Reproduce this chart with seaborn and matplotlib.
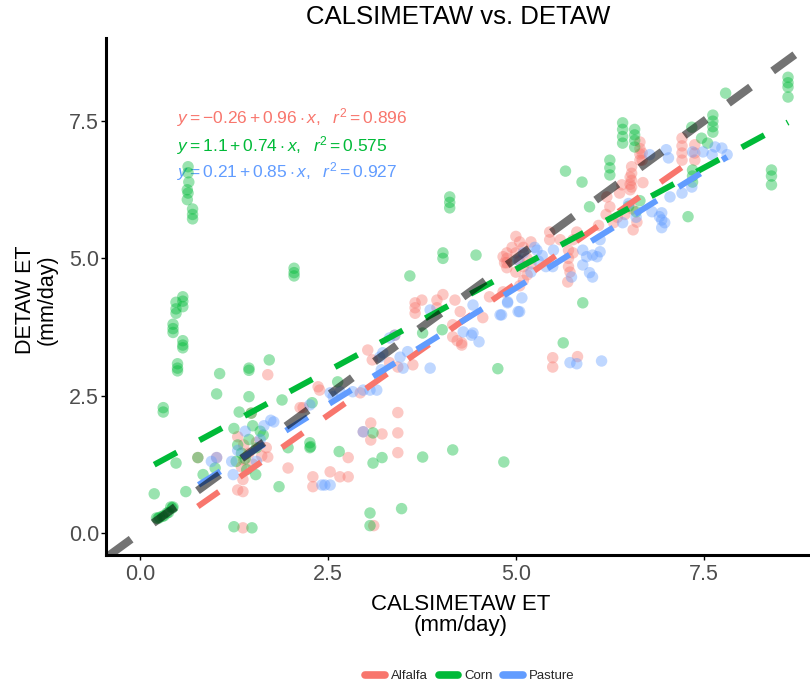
import numpy as np
import pandas as pd
import matplotlib
matplotlib.use("Agg")
import matplotlib.pyplot as plt
import seaborn as sns
from matplotlib.lines import Line2D

# ---------------- data ----------------
crops = ["Alfalfa", "Corn", "Pasture"]
crop_colors = ["#F8766D", "#00BA38", "#619CFF"]

alfalfa_x = [1.70, 2.17, 1.48, 1.30, 1.38, 1.45, 1.50, 1.55, 1.62, 1.68, 1.35, 1.70, 1.38,
             0.77, 1.02, 1.37, 1.37, 1.30, 1.37, 3.11,
             1.97, 2.30, 2.30, 2.53, 2.66, 2.77, 2.77,
             2.13, 2.37, 2.39, 2.93,
             3.43, 3.43, 3.43, 3.07, 2.97, 3.22, 3.07,
             3.09, 3.03, 3.63, 3.32, 3.43, 3.39,
             3.66, 3.66, 3.66, 3.75, 3.95, 3.95, 4.03, 4.19, 4.26, 4.56, 4.65, 4.83,
             4.88, 4.88, 4.88, 4.16, 4.16, 4.22, 4.28, 4.28, 4.83, 4.85, 4.88,
             5.00, 5.05, 5.10, 5.00, 5.15, 5.05, 5.10, 5.00, 5.15, 5.20, 4.95, 5.10, 5.20, 5.05,
             5.45, 5.45, 5.59, 5.81, 5.76, 5.76, 5.70, 5.70, 5.70, 5.72, 5.69,
             5.49, 5.49, 5.82,
             6.68, 6.68, 6.52, 6.52, 6.52, 6.41, 6.25, 6.21, 6.38, 6.56, 6.61,
             6.65, 6.65, 6.65, 6.65, 6.54, 6.54, 6.54, 6.54, 6.69,
             7.21, 7.21, 7.21, 7.21, 7.38, 7.38, 7.38,
             6.55, 6.45, 6.35, 6.10, 6.20, 6.30]
alfalfa_y = [2.88, 2.28, 2.18, 1.75, 1.60, 1.45, 1.25, 1.65, 1.40, 1.55, 1.20, 1.38, 1.33,
             1.37, 1.37, 0.97, 0.75, 0.78, 0.09, 0.13,
             1.18, 1.02, 0.84, 1.11, 1.02, 1.02, 1.37,
             2.28, 2.66, 2.60, 2.55,
             2.19, 1.82, 1.46, 2.00, 1.84, 1.80, 1.69,
             3.15, 3.33, 3.06, 3.10, 3.02, 3.60,
             4.19, 4.10, 4.00, 4.24, 4.24, 4.10, 4.34, 4.24, 4.03, 3.92, 4.30, 4.39,
             5.10, 5.00, 4.92, 3.79, 3.57, 3.50, 3.42, 3.46, 5.03, 4.92, 4.83,
             5.40, 5.30, 5.20, 5.10, 5.00, 4.95, 4.85, 4.75, 4.70, 5.30, 5.20, 4.60, 4.90, 4.50,
             5.48, 5.34, 5.34, 5.48, 5.34, 5.10, 5.15, 5.00, 4.85, 4.75, 4.57,
             3.19, 3.02, 3.21,
             6.92, 6.79, 6.48, 6.35, 6.25, 6.34, 5.94, 6.12, 6.19, 5.52, 5.66,
             7.12, 7.00, 6.90, 6.79, 6.67, 6.55, 6.42, 6.30, 6.38,
             7.19, 7.05, 6.92, 6.79, 7.07, 6.92, 6.79,
             5.90, 5.80, 5.75, 5.60, 5.80, 5.65]

corn_x = [0.64, 0.64, 0.65, 0.63, 0.64, 0.63, 0.70, 0.70, 0.70,
          2.05, 2.05, 2.05, 0.57, 0.57, 0.57, 0.48, 0.48, 0.48,
          0.44, 0.44, 0.44, 0.57, 0.57, 0.57, 0.50, 0.50, 0.50,
          1.72, 1.45, 1.06, 1.45, 1.02, 1.45, 0.31, 0.31, 1.32, 1.89, 1.48,
          1.25, 1.30, 1.35, 1.40, 1.45, 1.50, 1.55, 1.60, 1.28, 1.42, 1.64, 1.54,
          0.48, 0.77, 0.84, 1.00, 0.61, 0.19, 0.41,
          0.22, 0.24, 0.26, 0.30, 0.32, 0.36, 0.38, 0.43, 0.44,
          1.25, 1.49, 1.85, 1.97, 2.27,
          3.59, 4.03, 4.03, 4.47, 3.76, 4.02,
          2.63, 2.29, 2.26, 2.26, 2.65, 3.10, 3.22, 3.10, 3.76, 4.16, 4.84, 3.06, 3.48, 3.06,
          5.66, 5.88, 6.25, 6.25, 6.25, 5.98, 6.50, 6.60, 6.65,
          5.89, 5.63, 4.76,
          8.62, 8.62, 8.62, 8.62, 7.79, 8.40, 8.40, 8.40,
          7.62, 7.62, 7.62, 7.62, 7.34, 7.47, 7.55,
          7.35, 7.35, 7.35, 7.29,
          6.42, 6.42, 6.42, 6.42, 6.58, 6.58, 6.58, 6.58,
          4.12, 4.12, 4.12]
corn_y = [6.67, 6.56, 6.39, 6.25, 6.19, 6.07, 5.90, 5.80, 5.72,
          4.82, 4.74, 4.68, 4.30, 4.22, 4.12, 4.20, 4.08, 4.00,
          3.80, 3.72, 3.65, 3.50, 3.42, 3.37, 3.08, 3.00, 2.95,
          3.15, 3.00, 2.90, 2.96, 2.53, 2.48, 2.28, 2.20, 2.20, 2.42, 2.18,
          1.90, 1.60, 1.45, 1.35, 1.70, 1.95, 1.55, 1.85, 1.30, 1.15, 1.78, 1.06,
          1.27, 1.37, 1.06, 1.18, 0.75, 0.71, 0.47,
          0.27, 0.26, 0.28, 0.30, 0.31, 0.36, 0.37, 0.45, 0.47,
          0.11, 0.09, 0.84, 1.55, 1.57,
          4.68, 5.10, 5.00, 5.06, 3.64, 3.70,
          2.75, 2.37, 1.64, 1.55, 1.48, 1.27, 1.37, 1.82, 1.38, 1.51, 1.29, 0.36, 0.44, 0.13,
          6.59, 6.39, 6.79, 6.65, 6.52, 5.94, 5.95, 5.85, 6.05,
          4.19, 3.46, 2.99,
          8.30, 8.20, 8.12, 7.94, 8.01, 6.61, 6.50, 6.34,
          7.61, 7.50, 7.40, 7.30, 7.39, 7.19, 7.10,
          6.61, 6.50, 6.39, 5.76,
          7.47, 7.35, 7.22, 7.10, 7.35, 7.25, 7.15, 7.03,
          6.12, 6.02, 5.92]

pasture_x = [1.78, 1.74, 1.30, 1.40, 1.55, 1.65, 1.22, 1.60, 1.02, 1.24, 0.95,
             2.46, 2.53, 2.42,
             2.53, 2.57, 2.66, 2.83, 2.97, 3.06, 3.15, 2.26,
             3.32, 3.39, 3.19, 3.23, 3.46, 3.56, 3.50, 3.86, 3.21, 2.97,
             3.86, 4.43, 4.81, 4.89, 5.03, 4.30, 4.41, 4.51, 4.43,
             5.03, 5.08, 4.89, 5.05, 4.79,
             5.10, 5.25, 5.30, 5.35, 5.40, 5.20, 5.50, 5.28, 5.49, 5.74,
             5.89, 5.94, 6.02, 6.12, 6.12, 6.08, 5.89, 5.98, 6.02,
             6.42, 6.81, 6.91, 6.78,
             5.72, 5.81, 6.14,
             7.00, 7.03, 7.35, 7.49, 7.61, 7.65, 7.74, 7.81,
             6.94, 6.94, 6.94, 6.98, 7.21, 7.05, 7.34,
             6.50, 6.60]
pasture_y = [2.02, 2.05, 1.50, 1.85, 1.30, 1.95, 1.30, 1.70, 1.37, 1.06, 1.30,
             0.87, 0.87, 0.87,
             2.55, 2.48, 2.57, 2.57, 2.60, 2.60, 2.60, 2.33,
             3.55, 3.60, 3.20, 3.28, 3.20, 3.30, 3.00, 3.00, 2.97, 1.84,
             4.06, 4.15, 3.97, 4.21, 4.03, 3.66, 3.60, 3.48, 3.64,
             4.97, 4.28, 4.19, 4.03, 3.97,
             5.10, 5.20, 4.95, 5.05, 4.85, 4.75, 5.15, 5.15, 4.85, 4.66,
             5.15, 5.03, 5.06, 5.34, 5.12, 5.03, 4.88, 4.74, 4.66,
             5.65, 5.85, 5.76, 6.89,
             3.10, 3.08, 3.13,
             6.98, 6.83, 6.94, 6.94, 6.89, 7.03, 7.01, 6.89,
             5.83, 5.70, 5.56, 5.65, 6.19, 6.12, 6.30,
             6.00, 5.75]

# fitted lines (from the chart's equations) and fit ranges
fit_intercepts = [-0.26, 1.1, 0.21]
fit_slopes = [0.96, 0.74, 0.85]
fit_xmin = [0.77, 0.19, 0.78]
fit_xmax = [7.38, 8.62, 7.81]
eq_labels = [r"$y = \mathrm{-0.26} + 0.96\cdot x,\ \ r^2 = 0.896$",
             r"$y = 1.1 + 0.74\cdot x,\ \ r^2 = 0.575$",
             r"$y = 0.21 + 0.85\cdot x,\ \ r^2 = 0.927$"]

x_ticks = [0.0, 2.5, 5.0, 7.5]
y_ticks = [0.0, 2.5, 5.0, 7.5]

# ---------------- build table ----------------
df = pd.concat([
    pd.DataFrame({"x": alfalfa_x, "y": alfalfa_y, "Crop": "Alfalfa"}),
    pd.DataFrame({"x": corn_x, "y": corn_y, "Crop": "Corn"}),
    pd.DataFrame({"x": pasture_x, "y": pasture_y, "Crop": "Pasture"}),
], ignore_index=True)

# ---------------- style ----------------
sns.set_theme(style="white")
plt.rcParams['font.family'] = ['Liberation Sans', 'DejaVu Sans']
plt.rcParams['mathtext.fontset'] = 'custom'
plt.rcParams['mathtext.rm'] = 'Liberation Sans'
plt.rcParams['mathtext.it'] = 'Liberation Sans:italic'
plt.rcParams['mathtext.bf'] = 'Liberation Sans:bold'

fig, ax = plt.subplots(figsize=(8.1, 6.84), dpi=100)
fig.subplots_adjust(left=0.131, right=0.997, top=0.944, bottom=0.189)

palette = dict(zip(crops, crop_colors))

# equations (drawn beneath points)
eq_y = [7.56, 7.05, 6.58]
for lab, yy, col in zip(eq_labels, eq_y, crop_colors):
    ax.text(0.49, yy, lab, color=col, fontsize=12.5, ha="left", va="center", zorder=1)

sns.scatterplot(data=df, x="x", y="y", hue="Crop", palette=palette, hue_order=crops,
                s=68, alpha=0.4, linewidth=0, ax=ax, legend=False, zorder=2)

for b0, b1, x0, x1, col in zip(fit_intercepts, fit_slopes, fit_xmin, fit_xmax, crop_colors):
    xs = np.array([x0, x1])
    ax.plot(xs, b0 + b1 * xs, color=col, lw=4.3, dashes=(4.3, 4.3),
            dash_capstyle="butt", zorder=3)

lim_x = (-0.45, 8.88)
lim_y = (-0.40, 9.01)
ax.plot([-1, 10], [-1, 10], color="black", alpha=0.55, lw=5.8, dashes=(3.4, 3.4),
        dash_capstyle="butt", zorder=4)

ax.set_xlim(*lim_x)
ax.set_ylim(*lim_y)
ax.set_xticks(x_ticks)
ax.set_yticks(y_ticks)
ax.set_xticklabels([f"{t:.1f}" for t in x_ticks])
ax.set_yticklabels([f"{t:.1f}" for t in y_ticks])
ax.tick_params(axis="both", which="major", length=3.6, width=1, color="black",
               labelsize=15.5, labelcolor="#4D4D4D", direction="out",
               bottom=True, left=True)
ax.tick_params(axis="x", pad=3)
ax.tick_params(axis="y", pad=1.5)
for s in ["top", "right"]:
    ax.spines[s].set_visible(False)
for s in ["left", "bottom"]:
    ax.spines[s].set_color("black")
    ax.spines[s].set_linewidth(2.2)
ax.set_xlabel("")
ax.set_ylabel("")

fig.text(458 / 810, 1 - 17 / 684, "CALSIMETAW vs. DETAW", ha="center", va="center",
         fontsize=18.5, color="black")
fig.text(461 / 810, 1 - 615 / 684, "CALSIMETAW ET\n(mm/day)", ha="center", va="center",
         fontsize=16, color="black", linespacing=1.05, multialignment="center")
fig.text(36 / 810, 1 - 300 / 684, "DETAW ET\n(mm/day)", ha="center", va="center",
         rotation=90, fontsize=15.5, color="black", linespacing=1.05, multialignment="center")

handles = [Line2D([0], [0], color=c, lw=5.5, solid_capstyle="round") for c in crop_colors]
fig.legend(handles, crops, loc="center", bbox_to_anchor=(470 / 810, 1 - 676 / 684),
           ncol=3, frameon=False, fontsize=9.5, handlelength=1.5, handletextpad=0.45,
           columnspacing=0.8)

fig.savefig("out.png", dpi=100)
